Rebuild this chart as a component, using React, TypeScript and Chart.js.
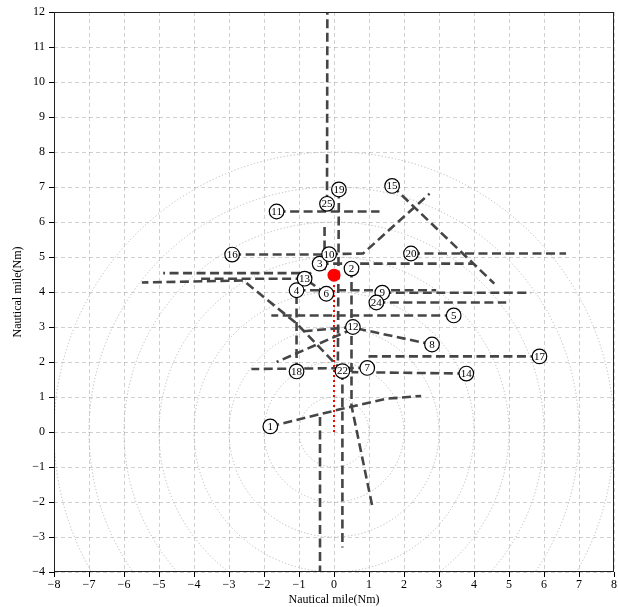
import React, { useEffect, useRef } from "react";
import { Chart, registerables } from "chart.js";

Chart.register(...registerables);

// ---- axis ranges / ticks ----
const X_MIN = -8;
const X_MAX = 8;
const Y_MIN = -4;
const Y_MAX = 12;
const RING_RADII = [1, 2, 3, 4, 5, 6, 7, 8];
const AXIS_TITLE = "Nautical mile(Nm)";

// ---- target tracks (first point = labelled start) ----
const TRACK_IDS = ["1", "2", "3", "4", "5", "6", "7", "8", "9", "10", "11", "12", "13", "14", "15", "16", "17", "18", "19", "20", "22", "24", "25"];
const TRACK_1 = [[-1.82, 0.16], [0.26, 0.67], [1.49, 0.95], [2.49, 1.03]];
const TRACK_2 = [[0.5, 4.67], [0.5, 0.75], [1.09, -2.1]];
const TRACK_3 = [[-0.41, 4.81], [3.97, 4.81]];
const TRACK_4 = [[-1.07, 4.05], [2.92, 4.05]];
const TRACK_5 = [[3.42, 3.33], [-1.79, 3.33]];
const TRACK_6 = [[-0.22, 3.95], [-0.75, 4.32]];
const TRACK_7 = [[0.95, 1.83], [-2.36, 1.8]];
const TRACK_8 = [[2.8, 2.5], [0.6, 2.97], [-1.64, 2.0]];
const TRACK_9 = [[1.38, 3.98], [5.63, 3.98]];
const TRACK_10 = [[-0.14, 5.08], [0.83, 5.1], [2.73, 6.81]];
const TRACK_11 = [[-1.64, 6.3], [1.3, 6.3]];
const TRACK_12 = [[0.54, 3.0], [-0.98, 2.87]];
const TRACK_13 = [[-0.84, 4.38], [-3.83, 4.38]];
const TRACK_14 = [[3.78, 1.67], [0.5, 1.71]];
const TRACK_15 = [[1.66, 7.03], [4.58, 4.24]];
const TRACK_16 = [[-2.91, 5.07], [-0.14, 5.07]];
const TRACK_17 = [[5.87, 2.16], [0.92, 2.16]];
const TRACK_18 = [[-1.07, 1.73], [-1.07, 4.05]];
const TRACK_19 = [[0.14, 6.93], [0.11, 1.82]];
const TRACK_20 = [[2.2, 5.1], [6.63, 5.1]];
const TRACK_22 = [[0.24, 1.74], [0.24, -3.3]];
const TRACK_24 = [[1.21, 3.7], [4.92, 3.7]];
const TRACK_25 = [[-0.2, 6.52], [-0.19, 12]];
const TRACKS = [TRACK_1, TRACK_2, TRACK_3, TRACK_4, TRACK_5, TRACK_6, TRACK_7, TRACK_8, TRACK_9, TRACK_10, TRACK_11, TRACK_12, TRACK_13, TRACK_14, TRACK_15, TRACK_16, TRACK_17, TRACK_18, TRACK_19, TRACK_20, TRACK_22, TRACK_24, TRACK_25];

// ---- unlabelled track pieces ----
const PIECE_A = [[-0.4, 0.43], [-0.4, -4]];
const PIECE_B = [[0.24, 1.74], [-1.07, 3.1], [-2.59, 4.33], [-5.49, 4.27]];
const PIECE_C = [[-0.84, 4.38], [-0.41, 4.81]];
const PIECE_D = [[-0.27, 5.86], [-0.27, 4.62]];
const PIECE_E = [[-0.97, 4.54], [-4.88, 4.54]];
const PIECES = [PIECE_A, PIECE_B, PIECE_C, PIECE_D, PIECE_E];

// ---- own ship ----
const OWN_SHIP = [[0, 4.48]];
const OWN_PATH = [[0, 0], [0, 4.25]];

const FONT = "'Liberation Serif', 'Times New Roman', 'DejaVu Serif', serif";
const TRACK_COLOR = "#454545";

const toXY = (arr: number[][]) => arr.map(([x, y]) => ({ x, y }));
const fmt = (v: number) => (v < 0 ? "\u2212" + Math.abs(v) : String(v));

const ringsPlugin = {
  id: "rings",
  beforeDatasetsDraw(chart: any) {
    const { ctx, chartArea, scales } = chart;
    const xs = scales.x;
    const ys = scales.y;
    const cx = xs.getPixelForValue(0);
    const cy = ys.getPixelForValue(0);
    ctx.save();
    ctx.beginPath();
    ctx.rect(chartArea.left, chartArea.top, chartArea.right - chartArea.left, chartArea.bottom - chartArea.top);
    ctx.clip();
    ctx.strokeStyle = "#b8b8b8";
    ctx.lineWidth = 1;
    ctx.setLineDash([1.2, 2.2]);
    for (const r of RING_RADII) {
      const rx = Math.abs(xs.getPixelForValue(r) - cx);
      const ry = Math.abs(ys.getPixelForValue(r) - cy);
      ctx.beginPath();
      ctx.ellipse(cx, cy, rx, ry, 0, 0, Math.PI * 2);
      ctx.stroke();
    }
    ctx.restore();
  },
};

const labelsPlugin = {
  id: "trackLabels",
  afterDatasetsDraw(chart: any) {
    const { ctx, scales } = chart;
    ctx.save();
    ctx.setLineDash([]);
    TRACKS.forEach((path, i) => {
      const px = scales.x.getPixelForValue(path[0][0]);
      const py = scales.y.getPixelForValue(path[0][1]);
      ctx.beginPath();
      ctx.arc(px, py, 7.3, 0, Math.PI * 2);
      ctx.fillStyle = "#ffffff";
      ctx.fill();
      ctx.lineWidth = 1.2;
      ctx.strokeStyle = "#000000";
      ctx.stroke();
      ctx.fillStyle = "#000000";
      ctx.font = `11px ${FONT}`;
      ctx.textAlign = "center";
      ctx.textBaseline = "middle";
      ctx.fillText(TRACK_IDS[i], px, py + 0.5);
    });
    // own ship on top
    const sx = scales.x.getPixelForValue(OWN_SHIP[0][0]);
    const sy = scales.y.getPixelForValue(OWN_SHIP[0][1]);
    ctx.beginPath();
    ctx.arc(sx, sy, 6.5, 0, Math.PI * 2);
    ctx.fillStyle = "#ff0000";
    ctx.fill();
    ctx.restore();
  },
};

const framePlugin = {
  id: "frame",
  afterDraw(chart: any) {
    const { ctx, chartArea } = chart;
    ctx.save();
    ctx.setLineDash([]);
    ctx.strokeStyle = "#222222";
    ctx.lineWidth = 1;
    ctx.strokeRect(
      Math.round(chartArea.left) + 0.5,
      Math.round(chartArea.top) + 0.5,
      Math.round(chartArea.right - chartArea.left) - 1,
      Math.round(chartArea.bottom - chartArea.top) - 1
    );
    ctx.fillStyle = "#000000";
    ctx.font = `12px ${FONT}`;
    ctx.textAlign = "center";
    ctx.textBaseline = "middle";
    ctx.fillText(AXIS_TITLE, (chartArea.left + chartArea.right) / 2, chart.height - 7);
    ctx.translate(18, (chartArea.top + chartArea.bottom) / 2);
    ctx.rotate(-Math.PI / 2);
    ctx.fillText(AXIS_TITLE, 0, 0);
    ctx.restore();
  },
};

export default function App() {
  const ref = useRef<HTMLCanvasElement | null>(null);

  useEffect(() => {
    if (!ref.current) return;
    const lineDs = (arr: number[][]) => ({
      type: "scatter" as const,
      data: toXY(arr),
      showLine: true,
      borderColor: TRACK_COLOR,
      backgroundColor: TRACK_COLOR,
      borderWidth: 2.6,
      borderDash: [9, 4.5],
      pointRadius: 0,
      pointHoverRadius: 0,
      fill: false,
    });
    const datasets: any[] = [
      ...TRACKS.map(lineDs),
      ...PIECES.map(lineDs),
      {
        type: "scatter",
        data: toXY(OWN_PATH),
        showLine: true,
        borderColor: "#ff0000",
        borderWidth: 2,
        borderDash: [2, 3],
        pointRadius: 0,
        fill: false,
      },
    ];

    const gridOpts = {
      color: "rgba(0,0,0,0.18)",
      lineWidth: 1,
      drawTicks: true,
      tickLength: 5,
      tickColor: "#000000",
      tickWidth: 1,
      tickBorderDash: [],
    };

    const chart = new Chart(ref.current, {
      type: "scatter",
      data: { datasets },
      options: {
        responsive: false,
        animation: false,
        devicePixelRatio: 1,
        layout: { padding: { top: 12, right: 3, left: 0, bottom: 0 } },
        plugins: { legend: { display: false }, tooltip: { enabled: false } },
        scales: {
          x: {
            type: "linear",
            min: X_MIN,
            max: X_MAX,
            grid: gridOpts,
            border: { display: false, dash: [4, 3] },
            ticks: {
              stepSize: 1,
              autoSkip: false,
              maxRotation: 0,
              padding: 1,
              color: "#000000",
              font: { family: FONT, size: 12 },
              callback: (v: any) => fmt(Number(v)),
            },
            afterFit: (s: any) => {
              s.height = 35;
            },
          },
          y: {
            type: "linear",
            min: Y_MIN,
            max: Y_MAX,
            grid: gridOpts,
            border: { display: false, dash: [4, 3] },
            ticks: {
              stepSize: 1,
              autoSkip: false,
              padding: 4,
              color: "#000000",
              font: { family: FONT, size: 12 },
              callback: (v: any) => fmt(Number(v)),
            },
            afterFit: (s: any) => {
              s.width = 54;
            },
          },
        },
      },
      plugins: [ringsPlugin, labelsPlugin, framePlugin],
    } as any);
    return () => chart.destroy();
  }, []);

  return (
    <div style={{ position: "absolute", left: 0, top: 0, width: 618, height: 607, background: "#fff" }}>
      <canvas ref={ref} width={618} height={607} style={{ width: 618, height: 607, display: "block" }} />
    </div>
  );
}
